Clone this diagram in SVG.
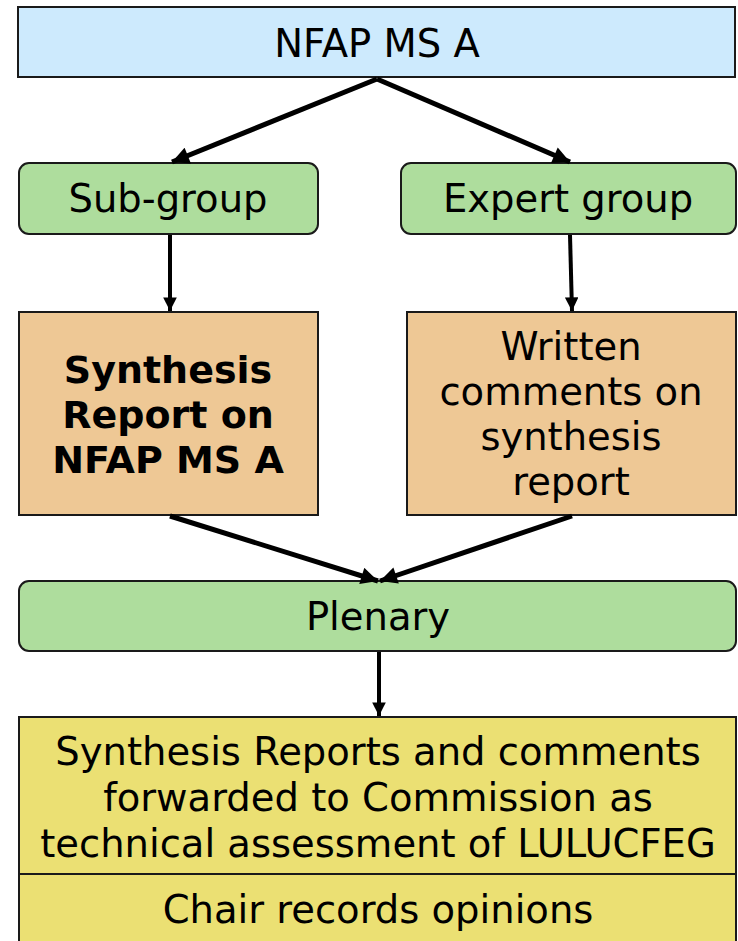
<svg xmlns="http://www.w3.org/2000/svg" width="738" height="941" viewBox="0 0 738 941">
<style>
text{font-family:"DejaVu Sans","Liberation Sans",sans-serif;font-size:38.5px;fill:#000;text-anchor:middle}
.b{font-weight:bold;font-size:38px}
.box{stroke:#1a1a1a;stroke-width:2}
.blue{fill:#cdeafd}
.green{fill:#aedd9d}
.tan{fill:#eec895}
.yellow{fill:#ebe073}
.con{stroke:#000;fill:none;marker-end:url(#ah)}
.thick{stroke-width:5}
.thin{stroke-width:4}
</style>
<defs>
<marker id="ah" viewBox="0 0 10 10" refX="10" refY="5" markerWidth="3.6" markerHeight="3.4" markerUnits="strokeWidth" orient="auto">
<path d="M0,0 L10,5 L0,10 z" fill="#000"/>
</marker>
</defs>
<g id="nfap">
<rect class="box blue" x="18" y="7" width="717" height="70"/>
<text x="377" y="57">NFAP MS A</text>
</g>
<g id="subgroup">
<rect class="box green" x="19" y="163" width="299" height="71" rx="10"/>
<text x="168" y="212">Sub-group</text>
</g>
<g id="expert">
<rect class="box green" x="401" y="163" width="335" height="71" rx="10"/>
<text x="568" y="212">Expert group</text>
</g>
<g id="synthesis">
<rect class="box tan" x="19" y="312" width="299" height="203"/>
<text class="b" x="168" y="383">Synthesis</text>
<text class="b" x="168" y="428">Report on</text>
<text class="b" x="168" y="473">NFAP MS A</text>
</g>
<g id="written">
<rect class="box tan" x="407" y="312" width="329" height="203"/>
<text x="571" y="360">Written</text>
<text x="571" y="405">comments on</text>
<text x="571" y="450">synthesis</text>
<text x="571" y="495">report</text>
</g>
<g id="plenary">
<rect class="box green" x="19" y="581" width="717" height="70" rx="10"/>
<text x="378" y="630">Plenary</text>
</g>
<g id="outcome">
<rect class="box yellow" x="19" y="717" width="717" height="230"/>
<line x1="19" y1="874" x2="736" y2="874" stroke="#1a1a1a" stroke-width="2"/>
<text x="378" y="765">Synthesis Reports and comments</text>
<text x="378" y="811">forwarded to Commission as</text>
<text x="378" y="857">technical assessment of LULUCFEG</text>
<text x="378" y="923">Chair records opinions</text>
</g>
<g id="connectors">
<line class="con thick" x1="377" y1="79" x2="172" y2="162"/>
<line class="con thick" x1="377" y1="79" x2="570" y2="162"/>
<line class="con thin" x1="170" y1="235" x2="170" y2="311"/>
<line class="con thin" x1="570" y1="235" x2="572" y2="311"/>
<line class="con thick" x1="170" y1="516" x2="378" y2="581"/>
<line class="con thick" x1="572" y1="516" x2="380" y2="581"/>
<line class="con thin" x1="379" y1="652" x2="379" y2="716"/>
</g>
</svg>
